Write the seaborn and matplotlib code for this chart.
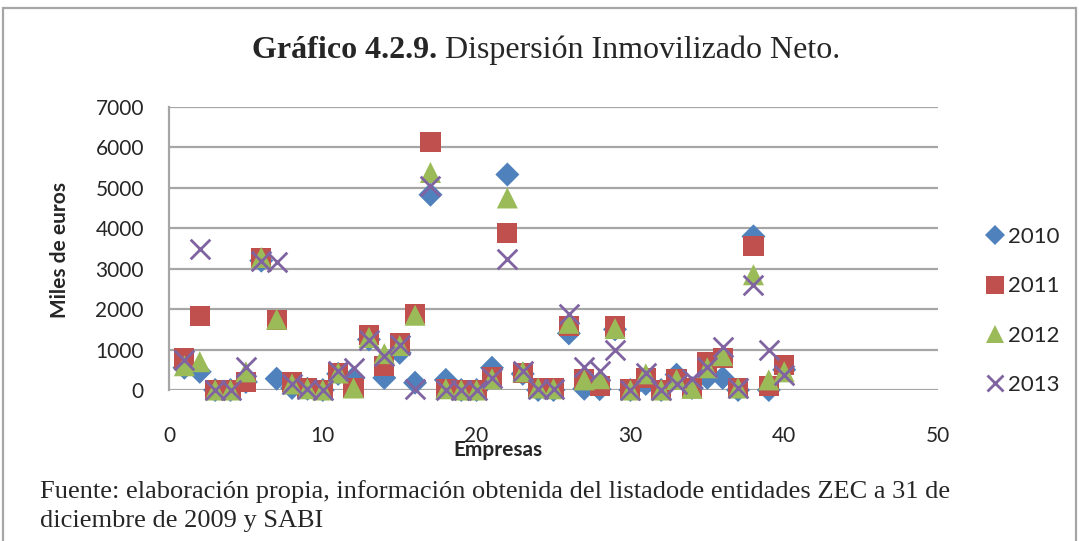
import numpy as np
import pandas as pd
import matplotlib
matplotlib.use('Agg')
import matplotlib.pyplot as plt
import seaborn as sns
from matplotlib.lines import Line2D
from matplotlib.patches import Rectangle

# data (miles de euros per empresa)
empresas = [1, 2, 3, 4, 5, 6, 7, 8, 9, 10, 11, 12, 13, 14, 15, 16, 17, 18, 19, 20,
            21, 22, 23, 24, 25, 26, 27, 28, 29, 30, 31, 32, 33, 34, 35, 36, 37, 38, 39, 40]
v2010 = [550, 450, 0, 0, 200, 3200, 280, 50, 30, 0, 400, 300, 1250, 300, 920, 180, 4830, 250, 0, 0,
         550, 5330, 400, 0, 0, 1400, 30, 20, 1500, 0, 150, 0, 380, 50, 300, 300, 0, 3800, 0, 500]
v2011 = [780, 1820, 0, 0, 200, 3260, 1730, 200, 50, 0, 420, 50, 1360, 600, 1160, 1870, 6130, 30, 0, 0,
         320, 3890, 420, 50, 50, 1580, 260, 100, 1570, 30, 300, 0, 280, 60, 680, 790, 50, 3560, 100, 620]
v2012 = [600, 700, 0, 0, 450, 3280, 1750, 150, 30, 0, 420, 50, 1300, 900, 1100, 1850, 5380, 30, 0, 0,
         280, 4750, 450, 50, 30, 1650, 250, 280, 1520, 0, 400, 0, 260, 40, 550, 850, 50, 2850, 250, 450]
v2013 = [750, 3480, 0, 0, 580, 3200, 3170, 150, 30, 0, 470, 540, 1240, 850, 1110, 30, 5050, 0, 0, 0,
         300, 3240, 480, 30, 30, 1870, 560, 480, 1000, 0, 420, 0, 150, 280, 560, 1060, 50, 2600, 980, 380]

years = ['2010', '2011', '2012', '2013']
series = [v2010, v2011, v2012, v2013]
colors = ['#4F81BD', '#C0504D', '#9BBB59', '#8064A2']
markers = ['D', 's', '^', 'x']
sizes = [150, 210, 230, 200]

sns.set_style('white')
plt.rcParams['font.family'] = ['Lato', 'DejaVu Sans']

W, H = 1079, 541
fig = plt.figure(figsize=(W / 100, H / 100), dpi=100)
ax = fig.add_axes([169 / W, 1 - 390 / H, (938 - 169) / W, (390 - 107) / H])

for yr, vals, c, m, s in zip(years, series, colors, markers, sizes):
    df = pd.DataFrame({'Empresas': empresas, 'valor': vals})
    if m == 'x':
        sns.scatterplot(data=df, x='Empresas', y='valor', ax=ax, marker=m, s=s,
                        color=c, linewidth=2, clip_on=False, zorder=3)
    else:
        sns.scatterplot(data=df, x='Empresas', y='valor', ax=ax, marker=m, s=s,
                        color=c, linewidth=0, edgecolor='none', clip_on=False, zorder=3)

ax.set_xlim(0, 50)
ax.set_ylim(0, 7000)
ax.set_xticks([0, 10, 20, 30, 40, 50])
ax.set_yticks(range(0, 7001, 1000))
ax.yaxis.grid(True, color='#A6A6A6', linewidth=1.6)
ax.xaxis.grid(False)
ax.set_axisbelow(True)
for side in ['top', 'right', 'bottom']:
    ax.spines[side].set_visible(False)
ax.spines['left'].set_color('#A6A6A6')
ax.spines['left'].set_linewidth(1.6)
ax.tick_params(axis='x', length=0, pad=26, labelsize=15)
ax.tick_params(axis='y', length=0, pad=18, labelsize=15)
ax.set_xlabel('')
ax.set_ylabel('')

fig.text(60 / W, 1 - 250 / H, 'Miles de euros', rotation=90, ha='center', va='center',
         fontsize=15, fontweight='bold')
fig.text(498 / W, 1 - 450 / H, 'Empresas', ha='center', va='center',
         fontsize=15, fontweight='bold')

handles = [Line2D([], [], linestyle='none', marker=m, color=c, markersize=np.sqrt(s) * 0.85,
                  markeredgewidth=2 if m == 'x' else 0)
           for m, c, s in zip(markers, colors, sizes)]
fig.legend(handles, years, loc='center left', bbox_to_anchor=(968 / W, 1 - 311 / H),
           frameon=False, fontsize=16, handlelength=0.6, handletextpad=0.3, labelspacing=1.32)

# title with bold prefix
serif = ['Liberation Serif', 'DejaVu Serif']
t1 = fig.text(252 / W, 1 - 50 / H, 'Gráfico 4.2.9.', ha='left', va='center',
              fontsize=23, fontweight='bold', family=serif)
fig.canvas.draw()
bb = t1.get_window_extent()
fig.text(bb.x1 / W, 1 - 50 / H, ' Dispersión Inmovilizado Neto.', ha='left', va='center',
         fontsize=23, family=serif)

fig.text(40 / W, 1 - 492 / H, 'Fuente: elaboración propia, información obtenida del listadode entidades ZEC a 31 de',
         ha='left', va='center', fontsize=19, family=serif)
fig.text(40 / W, 1 - 521 / H, 'diciembre de 2009 y SABI',
         ha='left', va='center', fontsize=19, family=serif)

fig.patches.append(Rectangle((3 / W, -0.05), (1076 - 3) / W, 1 - 8 / H + 0.05,
                             transform=fig.transFigure, fill=False,
                             edgecolor='#A6A6A6', linewidth=1.6))

fig.savefig('out.png', dpi=100)
